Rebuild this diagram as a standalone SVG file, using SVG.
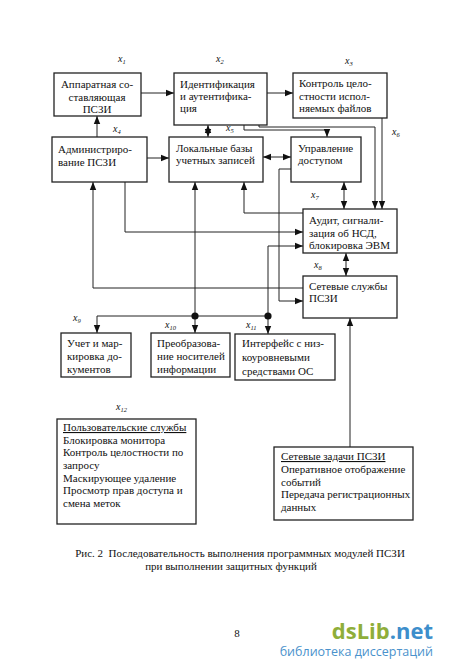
<svg xmlns="http://www.w3.org/2000/svg" width="450" height="671" viewBox="0 0 450 671">
<defs>
<marker id="ah" markerUnits="userSpaceOnUse" markerWidth="8" markerHeight="8" refX="6" refY="3" orient="auto-start-reverse" viewBox="0 0 6 6"><path d="M0,0.6 L6,3 L0,5.4 Z" fill="#111"/></marker>
</defs>
<style>
.b{fill:#fff;stroke:#222;stroke-width:1.3}
.t{font-family:"Liberation Serif","Times New Roman",serif;font-size:11px;fill:#111}
.tc{text-anchor:middle}
.lbl{font-family:"Liberation Serif","Times New Roman",serif;font-style:italic;font-size:10px;fill:#111}
.sub{font-size:6.5px}
.c{fill:none;stroke:#222;stroke-width:1}
.e{marker-end:url(#ah)}
.s{marker-start:url(#ah)}
.cap{font-family:"Liberation Serif","Times New Roman",serif;font-size:11px;fill:#111;text-anchor:middle}
</style>
<rect width="450" height="671" fill="#fff"/>

<g id="connectors">
<path class="c e" d="M141,93 H174"/>
<path class="c e" d="M267,93 H293"/>
<path class="c e" d="M97,137 V116"/>
<path class="c e" d="M147,158 H169"/>
<path class="c s e" d="M208,125 V137"/>
<path class="c s e" d="M263,157 H291"/>
<path class="c e" d="M244,125 V130 H327 V137"/>
<path class="c e" d="M259,125 V127 H375 V209"/>
<path class="c e" d="M382,118 V209"/>
<path class="c s e" d="M344,182 V209"/>
<path class="c e" d="M303,213 H244 V182"/>
<path class="c e" d="M125,182 V232 H303"/>
<path class="c e" d="M303,288 H93 V182"/>
<path class="c e" d="M291,169 H279 V301 H303"/>
<path class="c e" d="M268,316 V246 H303"/>
<path class="c" d="M97,316 H268"/>
<path class="c e" d="M97,316 V333"/>
<path class="c e" d="M195,316 V182"/>
<path class="c e" d="M195,316 V333"/>
<path class="c e" d="M268,316 V334"/>
<path class="c e" d="M350,447 V318"/>
<path class="c s e" d="M346,253 V276"/>
<circle cx="195" cy="316" r="3.6" fill="#111"/>
<circle cx="268" cy="316" r="3.6" fill="#111"/>
</g>

<g id="labels">
<text class="lbl" x="118" y="62">x<tspan class="sub" dy="2">1</tspan></text>
<text class="lbl" x="216" y="62">x<tspan class="sub" dy="2">2</tspan></text>
<text class="lbl" x="345" y="64">x<tspan class="sub" dy="2">3</tspan></text>
<text class="lbl" x="113" y="132">x<tspan class="sub" dy="2">4</tspan></text>
<text class="lbl" x="226" y="131">x<tspan class="sub" dy="2">5</tspan></text>
<text class="lbl" x="392" y="135">x<tspan class="sub" dy="2">6</tspan></text>
<text class="lbl" x="311" y="198">x<tspan class="sub" dy="2">7</tspan></text>
<text class="lbl" x="314" y="268">x<tspan class="sub" dy="2">8</tspan></text>
<text class="lbl" x="73" y="321">x<tspan class="sub" dy="2">9</tspan></text>
<text class="lbl" x="165" y="328">x<tspan class="sub" dy="2">10</tspan></text>
<text class="lbl" x="246" y="328">x<tspan class="sub" dy="2">11</tspan></text>
<text class="lbl" x="116" y="410">x<tspan class="sub" dy="2">12</tspan></text>
</g>

<g id="n1"><rect class="b" x="54" y="73" width="87" height="43"/>
<text class="t tc" x="97" y="88">Аппаратная со-</text><text class="t tc" x="97" y="101">ставляющая</text><text class="t tc" x="97" y="113">ПСЗИ</text></g>

<g id="n2"><rect class="b" x="174" y="73" width="93" height="52"/>
<text class="t" x="180" y="88">Идентификация</text><text class="t" x="180" y="100">и аутентифика-</text><text class="t" x="180" y="112">ция</text></g>

<g id="n3"><rect class="b" x="293" y="73" width="94" height="45"/>
<text class="t" x="299" y="87">Контроль цело-</text><text class="t" x="299" y="100">стности испол-</text><text class="t" x="299" y="112">няемых файлов</text></g>

<g id="n4"><rect class="b" x="52" y="137" width="95" height="45"/>
<text class="t" x="58" y="153">Администриро-</text><text class="t" x="58" y="166">вание ПСЗИ</text></g>

<g id="n5"><rect class="b" x="169" y="137" width="94" height="45"/>
<text class="t" x="176" y="152">Локальные базы</text><text class="t" x="176" y="164">учетных записей</text></g>

<g id="n6"><rect class="b" x="291" y="137" width="70" height="45"/>
<text class="t" x="298" y="152">Управление</text><text class="t" x="298" y="164">доступом</text></g>

<g id="n7"><rect class="b" x="303" y="209" width="94" height="44"/>
<text class="t" x="309" y="224" font-size="11.5">Аудит, сигнали-</text><text class="t" x="309" y="237" font-size="11.5">зация об НСД,</text><text class="t" x="309" y="249" font-size="11.5">блокировка ЭВМ</text></g>

<g id="n8"><rect class="b" x="303" y="276" width="94" height="42"/>
<text class="t" x="309" y="290">Сетевые службы</text><text class="t" x="309" y="302">ПСЗИ</text></g>

<g id="n9"><rect class="b" x="61" y="333" width="70" height="44"/>
<text class="t" x="67" y="347">Учет и мар-</text><text class="t" x="67" y="360">кировка до-</text><text class="t" x="67" y="373">кументов</text></g>

<g id="n10"><rect class="b" x="151" y="333" width="79" height="44"/>
<text class="t" x="157" y="347">Преобразова-</text><text class="t" x="157" y="360">ние носителей</text><text class="t" x="157" y="373">информации</text></g>

<g id="n11"><rect class="b" x="235" y="334" width="100" height="46"/>
<text class="t" x="242" y="347">Интерфейс с низ-</text><text class="t" x="242" y="361">коуровневыми</text><text class="t" x="242" y="375">средствами ОС</text></g>

<g id="n12"><rect class="b" x="57" y="419" width="139" height="105"/>
<text class="t" x="63" y="431" text-decoration="underline">Пользовательские службы</text>
<text class="t" x="63" y="444">Блокировка монитора</text>
<text class="t" x="63" y="456">Контроль целостности по</text>
<text class="t" x="63" y="469">запросу</text>
<text class="t" x="63" y="482">Маскирующее удаление</text>
<text class="t" x="63" y="494">Просмотр прав доступа и</text>
<text class="t" x="63" y="507">смена меток</text></g>

<g id="n13"><rect class="b" x="274" y="447" width="139" height="73"/>
<text class="t" x="281" y="460" text-decoration="underline">Сетевые задачи ПСЗИ</text>
<text class="t" x="281" y="473">Оперативное отображение</text>
<text class="t" x="281" y="486">событий</text>
<text class="t" x="281" y="498">Передача регистрационных</text>
<text class="t" x="281" y="511">данных</text></g>

<g id="caption">
<text class="cap" x="240" y="557">Рис. 2&#160; Последовательность выполнения программных модулей ПСЗИ</text>
<text class="cap" x="231" y="570">при выполнении защитных функций</text>
<text class="cap" x="237" y="637">8</text>
</g>

<g id="logo">
<text x="433" y="639" text-anchor="end" font-family="'Open Sans','DejaVu Sans',sans-serif" font-size="22" font-weight="bold"><tspan fill="#8fae3a">dsLib</tspan><tspan fill="#3d8ecb">.net</tspan></text>
<text x="433" y="656" text-anchor="end" font-family="'Open Sans','DejaVu Sans',sans-serif" font-size="12.5" fill="#4a92cc">библиотека диссертаций</text>
</g>
</svg>
